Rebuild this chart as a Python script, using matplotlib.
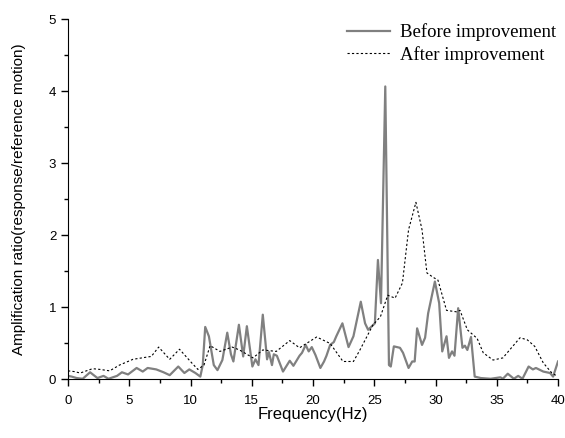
import numpy as np
import matplotlib
matplotlib.use('Agg')
import matplotlib.pyplot as plt
from matplotlib.ticker import MultipleLocator

# before improvement (solid grey)
freq_before = [0.0, 0.3, 0.7, 1.2, 1.8, 2.1, 2.4, 2.9, 3.3, 4.0, 4.4, 4.9, 5.6, 6.1, 6.5,
               7.2, 7.8, 8.3, 9.0, 9.5, 9.9, 10.4, 10.8, 11.0, 11.2, 11.5, 11.9, 12.2,
               12.6, 13.0, 13.3, 13.5, 13.95, 14.3, 14.6, 15.05, 15.3, 15.55, 15.9, 16.25,
               16.4, 16.65, 16.8, 17.05, 17.55, 18.1, 18.4, 18.9, 19.1, 19.4, 19.65, 19.9,
               20.2, 20.6, 20.9, 21.1, 21.4, 21.7, 21.9, 22.4, 22.9, 23.3, 23.9, 24.25,
               24.5, 25.05, 25.3, 25.55, 25.9, 26.2, 26.35, 26.6, 27.1, 27.35, 27.8, 28.1,
               28.3, 28.5, 28.9, 29.15, 29.4, 29.95, 30.3, 30.55, 30.9, 31.1, 31.35, 31.55,
               31.85, 32.2, 32.4, 32.6, 32.9, 33.2, 33.7, 34.5, 35.3, 35.5, 35.9, 36.4,
               36.75, 37.1, 37.6, 37.95, 38.2, 38.8, 39.35, 39.6, 40.0]
amp_before = [0.05, 0.04, 0.02, 0.01, 0.10, 0.06, 0.02, 0.05, 0.01, 0.05, 0.10, 0.07, 0.16,
              0.11, 0.16, 0.14, 0.10, 0.06, 0.18, 0.09, 0.14, 0.09, 0.04, 0.20, 0.73, 0.60,
              0.20, 0.13, 0.27, 0.65, 0.35, 0.25, 0.76, 0.32, 0.74, 0.18, 0.28, 0.20, 0.90,
              0.28, 0.38, 0.20, 0.35, 0.33, 0.11, 0.26, 0.19, 0.33, 0.37, 0.48, 0.39, 0.45,
              0.34, 0.16, 0.25, 0.33, 0.48, 0.52, 0.60, 0.78, 0.45, 0.60, 1.08, 0.78, 0.69,
              0.78, 1.66, 1.06, 4.07, 0.20, 0.18, 0.46, 0.44, 0.37, 0.16, 0.25, 0.25, 0.71,
              0.48, 0.58, 0.92, 1.36, 1.06, 0.39, 0.60, 0.30, 0.39, 0.33, 0.99, 0.44, 0.47,
              0.41, 0.59, 0.04, 0.02, 0.01, 0.03, 0.01, 0.08, 0.01, 0.05, 0.01, 0.18, 0.14,
              0.16, 0.11, 0.09, 0.04, 0.25]

# after improvement (dotted black)
freq_after = [0.0, 0.5, 1.0, 1.5, 2.0, 2.6, 3.4, 4.2, 5.3, 6.4, 6.8, 7.4, 8.3, 9.1, 10.1,
              10.6, 11.1, 11.6, 12.4, 13.4, 14.0, 15.1, 15.9, 17.0, 18.1, 18.9, 20.3, 21.4,
              22.45, 23.3, 23.8, 24.9, 25.5, 26.1, 26.7, 27.3, 27.8, 28.4, 28.9, 29.3, 29.8,
              30.2, 30.9, 31.7, 32.0, 32.6, 33.4, 33.9, 34.7, 35.5, 36.3, 36.9, 37.5, 38.1,
              38.8, 39.5, 39.9]
amp_after = [0.12, 0.11, 0.09, 0.12, 0.15, 0.14, 0.12, 0.20, 0.28, 0.31, 0.32, 0.45, 0.28,
             0.42, 0.23, 0.14, 0.20, 0.47, 0.39, 0.45, 0.41, 0.30, 0.41, 0.39, 0.54, 0.44,
             0.59, 0.50, 0.25, 0.25, 0.40, 0.76, 0.87, 1.17, 1.13, 1.34, 2.08, 2.46, 2.08,
             1.48, 1.42, 1.38, 0.96, 0.94, 0.96, 0.69, 0.57, 0.37, 0.27, 0.30, 0.46, 0.58,
             0.55, 0.46, 0.23, 0.09, 0.05]

fig = plt.figure(figsize=(5.65, 4.38), dpi=100)
ax = fig.add_axes([0.1204, 0.1336, 0.8672, 0.8219])

ax.plot(freq_before, amp_before, color='#808080', lw=1.6, label='Before improvement')
ax.plot(freq_after, amp_after, color='black', lw=0.8, linestyle=(0, (2, 2)),
        label='After improvement')

ax.set_xlim(0, 40)
ax.set_ylim(0, 5)
ax.xaxis.set_major_locator(MultipleLocator(5))
ax.xaxis.set_minor_locator(MultipleLocator(2.5))
ax.yaxis.set_major_locator(MultipleLocator(1))
ax.yaxis.set_minor_locator(MultipleLocator(0.5))
ax.tick_params(which='major', direction='out', length=5, width=1, labelsize=9.5)
ax.tick_params(axis='x', which='major', pad=6)
ax.tick_params(which='minor', direction='out', length=3, width=1)
ax.spines['top'].set_visible(False)
ax.spines['right'].set_visible(False)
for tl in ax.get_xticklabels() + ax.get_yticklabels():
    tl.set_family('Liberation Sans')

ax.set_xlabel('Frequency(Hz)', family='Liberation Sans', fontsize=12, labelpad=0)
ax.set_ylabel('Amplification ratio(response/reference motion)', family='Liberation Sans',
              fontsize=11, labelpad=16)

leg = ax.legend(loc='upper right', frameon=False, handlelength=2.3, handletextpad=0.55,
                prop={'family': 'Liberation Serif', 'size': 13.5},
                bbox_to_anchor=(1.012, 1.01), borderaxespad=0.0, labelspacing=0.25)

plt.savefig('out.png', dpi=100)
plt.close()
